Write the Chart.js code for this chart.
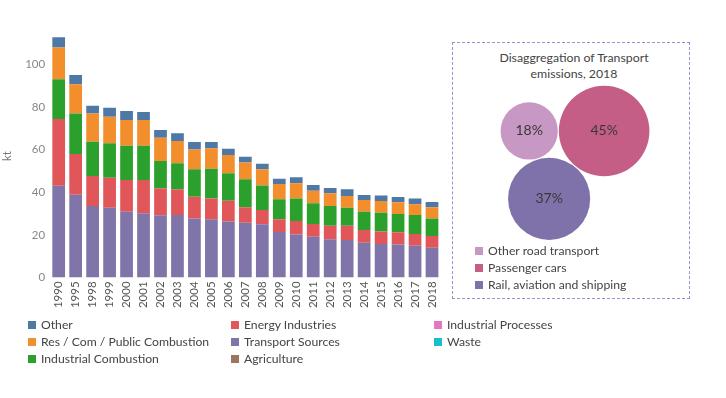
<!DOCTYPE html>
<html lang="en">
<head>
    <meta charset="UTF-8">
    <title>Transport emissions</title>
    <script src="https://cdn.jsdelivr.net/npm/chart.js@4.4.0/dist/chart.umd.min.js"></script>
    <style>
        body { margin: 0; background: #fff; font-family: Lato, sans-serif; }
        #wrap { position: relative; width: 726px; height: 398px; }
        #barBox { position: absolute; left: 0; top: 0; width: 450px; height: 318px; }
        .legend { position: absolute; font-size: 12.2px; color: #444; }
        .legend .item { position: absolute; white-space: nowrap; line-height: 17px; }
        .legend .sw { display: inline-block; width: 8px; height: 8px; margin-right: 5px; vertical-align: 0px; }
        #panel { position: absolute; left: 452px; top: 42px; width: 236px; height: 255px; border: 1px dashed #a58bd0; }
        #panelTitle { position: absolute; left: 3px; top: 7px; width: 100%; text-align: center; font-size: 12.3px; line-height: 15.5px; color: #444; }
        #bubbleBox { position: absolute; left: 0; top: 0; width: 236px; height: 255px; }
    </style>
</head>
<body>
<div id="wrap">
    <div id="barBox"><canvas id="barChart"></canvas></div>
    <div class="legend" id="mainLegend"></div>
    <div id="panel">
        <div id="panelTitle">Disaggregation of Transport<br>emissions, 2018</div>
        <div id="bubbleBox"><canvas id="bubbleChart"></canvas></div>
        <div class="legend" id="bubbleLegend"></div>
    </div>
</div>
<script>
    // years on the x axis
    const years = ['1990', '1995', '1998', '1999', '2000', '2001', '2002', '2003', '2004', '2005', '2006', '2007',
        '2008', '2009', '2010', '2011', '2012', '2013', '2014', '2015', '2016', '2017', '2018'];

    // kt
    const transport = [43.0, 38.8, 33.5, 32.7, 30.8, 30.1, 29.2, 29.3, 27.7, 27.3, 26.2, 25.7, 24.9, 21.3, 20.2, 19.1, 17.9, 17.6, 16.3, 15.7, 15.5, 14.9, 13.9];
    const energy = [31.4, 19.1, 14.1, 14.1, 14.9, 15.6, 12.6, 12.1, 10.2, 9.8, 9.8, 7.2, 6.7, 6.0, 6.3, 6.0, 6.4, 6.7, 6.0, 5.8, 5.7, 5.5, 5.5];
    const industrialComb = [18.6, 19.1, 16.1, 16.2, 16.1, 16.1, 12.8, 12.2, 12.9, 13.9, 12.9, 13.2, 11.6, 9.4, 10.6, 9.7, 9.2, 8.4, 8.5, 8.9, 8.6, 8.9, 8.3];
    const resCom = [15.0, 13.7, 13.3, 12.4, 12.1, 12.1, 11.0, 10.4, 9.3, 9.6, 8.6, 7.9, 7.6, 7.1, 7.1, 5.9, 6.0, 5.5, 5.5, 5.5, 5.5, 5.0, 5.2];
    const other = [4.7, 4.3, 3.6, 4.3, 4.2, 3.8, 3.6, 3.7, 3.5, 3.0, 2.9, 2.7, 2.6, 2.5, 2.8, 2.7, 2.5, 3.2, 2.4, 2.5, 2.4, 2.8, 2.5];

    const yTicks = [0, 20, 40, 60, 80, 100];

    // inset: share of transport emissions 2018
    const shareLabels = ['Other road transport', 'Passenger cars', 'Rail, aviation and shipping'];
    const shares = [18, 45, 37];

    const colors = {
        'Other': '#4e79a7',
        'Res / Com / Public Combustion': '#f28e2b',
        'Industrial Combustion': '#2ca02c',
        'Energy Industries': '#e15759',
        'Transport Sources': '#8074a9',
        'Agriculture': '#9c755f',
        'Industrial Processes': '#e377c2',
        'Waste': '#17becf'
    };
    const shareColors = ['#c898c4', '#c55e86', '#7f72aa'];

    Chart.defaults.font.family = 'Lato, sans-serif';
    Chart.defaults.animation = false;

    window.addEventListener('load', setup);

    function setup() {
        drawBars();
        drawBubbles();
        buildLegends();
    }

    function drawBars() {
        const ctx = document.getElementById('barChart').getContext('2d');
        const series = [
            ['Transport Sources', transport],
            ['Energy Industries', energy],
            ['Industrial Combustion', industrialComb],
            ['Res / Com / Public Combustion', resCom],
            ['Other', other]
        ];
        new Chart(ctx, {
            type: 'bar',
            data: {
                labels: years,
                datasets: series.map(s => ({
                    label: s[0],
                    data: s[1],
                    backgroundColor: colors[s[0]],
                    borderWidth: 0,
                    barPercentage: 0.75,
                    categoryPercentage: 1
                }))
            },
            options: {
                responsive: true,
                maintainAspectRatio: false,
                events: [],
                layout: { padding: { top: 34.6, right: 8.8, left: 0, bottom: 0 } },
                plugins: { legend: { display: false }, tooltip: { enabled: false } },
                scales: {
                    x: {
                        stacked: true,
                        grid: { display: false, drawTicks: false },
                        border: { display: false },
                        ticks: { color: '#555', font: { size: 11.5 }, minRotation: 90, maxRotation: 90, autoSkip: false, padding: 4 },
                        afterFit: s => { s.height = 40.6; }
                    },
                    y: {
                        stacked: true,
                        min: 0,
                        max: 114,
                        grid: { display: false, drawTicks: false },
                        border: { display: false },
                        afterBuildTicks: s => { s.ticks = yTicks.map(v => ({ value: v })); },
                        ticks: { color: '#888', font: { size: 11.5 }, padding: 5 },
                        title: { display: true, text: 'kt', color: '#777', font: { size: 11.5 }, padding: 0 },
                        afterFit: s => { s.width = 50.2; }
                    }
                }
            }
        });
    }

    function drawBubbles() {
        const box = document.getElementById('bubbleBox');
        const W = box.clientWidth, H = box.clientHeight;
        const k = 6.75, gap = 1;
        const r = shares.map(v => k * Math.sqrt(v));

        // pack three circles: cars in the middle, other road on its left, rail below both
        const A = { x: 0, y: 0 };
        const B = { x: -(r[1] + r[0] + gap), y: 0 };
        const d = A.x - B.x;
        const dBC = r[0] + r[2] + gap, dAC = r[1] + r[2] + gap;
        const cosT = (d * d + dBC * dBC - dAC * dAC) / (2 * d * dBC);
        const C = { x: B.x + dBC * cosT, y: B.y + dBC * Math.sqrt(1 - cosT * cosT) };
        const pts = [B, A, C];
        const minX = B.x - r[0], maxX = A.x + r[1];
        const minY = Math.min(A.y - r[1], B.y - r[0]);
        const ox = W / 2 + 4 - (minX + maxX) / 2, oy = 42.7 - minY;

        const bubbleText = {
            id: 'bubbleText',
            afterDatasetsDraw(chart) {
                const c = chart.ctx;
                c.save();
                c.font = '14px Lato, sans-serif';
                c.fillStyle = '#383838';
                c.textAlign = 'center';
                c.textBaseline = 'middle';
                chart.getDatasetMeta(0).data.forEach((el, i) => c.fillText(shares[i] + '%', el.x, el.y));
                c.restore();
            }
        };

        new Chart(document.getElementById('bubbleChart').getContext('2d'), {
            type: 'bubble',
            data: {
                labels: shareLabels,
                datasets: [{
                    data: pts.map((p, i) => ({ x: p.x + ox, y: p.y + oy, r: r[i] })),
                    backgroundColor: shareColors,
                    borderWidth: 0
                }]
            },
            options: {
                responsive: true,
                maintainAspectRatio: false,
                events: [],
                clip: false,
                layout: { autoPadding: false, padding: 0 },
                plugins: { legend: { display: false }, tooltip: { enabled: false } },
                scales: {
                    x: { display: false, min: 0, max: W },
                    y: { display: false, min: 0, max: H, reverse: true }
                }
            },
            plugins: [bubbleText]
        });
    }

    function legendItem(parent, label, color, x, y) {
        const el = document.createElement('div');
        el.className = 'item';
        el.style.left = x + 'px';
        el.style.top = y + 'px';
        el.innerHTML = '<span class="sw" style="background:' + color + '"></span>' + label;
        parent.appendChild(el);
    }

    function buildLegends() {
        const main = document.getElementById('mainLegend');
        const cols = [
            ['Other', 'Res / Com / Public Combustion', 'Industrial Combustion'],
            ['Energy Industries', 'Transport Sources', 'Agriculture'],
            ['Industrial Processes', 'Waste']
        ];
        const colX = [28, 231, 434];
        cols.forEach((col, ci) => col.forEach((name, ri) => legendItem(main, name, colors[name], colX[ci], 316 + ri * 17)));

        const inset = document.getElementById('bubbleLegend');
        shareLabels.forEach((name, i) => legendItem(inset, name, shareColors[i], 22, 199 + i * 17));
    }
</script>
</body>
</html>
